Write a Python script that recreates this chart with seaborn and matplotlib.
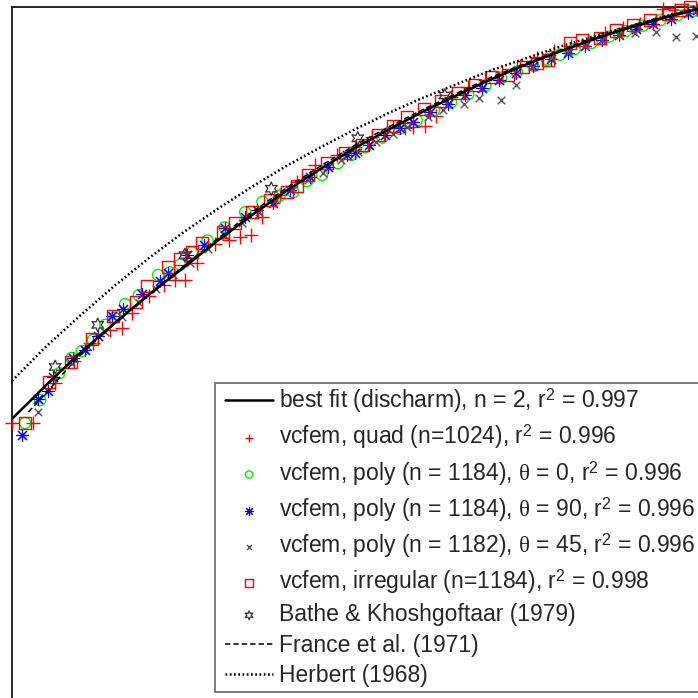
import numpy as np
import pandas as pd
import matplotlib
matplotlib.use("Agg")
import matplotlib.pyplot as plt
from matplotlib.patches import Rectangle
import seaborn as sns

# ---------------- data (normalised units) ----------------
fit_x = [0.00, 0.05, 0.10, 0.15, 0.20, 0.25, 0.30, 0.35, 0.40, 0.45, 0.50,
         0.55, 0.60, 0.65, 0.70, 0.75, 0.80, 0.85, 0.90, 0.95, 1.00]
fit_y = [0.404, 0.453, 0.500, 0.543, 0.584, 0.623, 0.662, 0.699, 0.734, 0.766, 0.796,
         0.823, 0.849, 0.873, 0.896, 0.917, 0.936, 0.954, 0.970, 0.984, 0.997]

france_x = [0.024, 0.043, 0.075, 0.10, 0.15, 0.20, 0.25, 0.30, 0.35, 0.40, 0.45, 0.50,
            0.55, 0.60, 0.65, 0.70, 0.75, 0.80, 0.85, 0.90, 0.95, 1.00]
france_y = [0.414, 0.434, 0.470, 0.497, 0.542, 0.585, 0.625, 0.665, 0.703, 0.738, 0.770, 0.800,
            0.827, 0.852, 0.876, 0.899, 0.919, 0.938, 0.956, 0.972, 0.986, 0.998]

herbert_x = [0.00, 0.05, 0.10, 0.15, 0.20, 0.25, 0.30, 0.35, 0.40, 0.45, 0.50,
             0.55, 0.60, 0.65, 0.70, 0.75, 0.80, 0.85, 0.90, 0.95, 1.00]
herbert_y = [0.459, 0.509, 0.554, 0.597, 0.637, 0.674, 0.708, 0.740, 0.770, 0.797, 0.823,
             0.847, 0.869, 0.889, 0.909, 0.926, 0.943, 0.958, 0.972, 0.986, 0.998]

quad_x = [0.000, 0.031, 0.063, 0.090, 0.118, 0.143, 0.160, 0.175, 0.200, 0.222, 0.238,
          0.252, 0.270, 0.296, 0.316, 0.332, 0.348, 0.364, 0.390, 0.415, 0.442, 0.474,
          0.500, 0.525, 0.555, 0.573, 0.585, 0.602, 0.618, 0.640, 0.665, 0.690, 0.715,
          0.740, 0.765, 0.790, 0.815, 0.840, 0.865, 0.890, 0.915, 0.949, 0.966, 0.985]
quad_y = [0.398, 0.398, 0.456, 0.487, 0.514, 0.533, 0.535, 0.557, 0.582, 0.598, 0.605,
          0.605, 0.630, 0.657, 0.663, 0.667, 0.670, 0.696, 0.728, 0.747, 0.771, 0.786,
          0.798, 0.812, 0.827, 0.825, 0.826, 0.828, 0.842, 0.870, 0.884, 0.895, 0.906,
          0.915, 0.926, 0.936, 0.944, 0.952, 0.962, 0.970, 0.976, 0.997, 0.996, 0.995]

poly0_x = [0.019, 0.041, 0.069, 0.087, 0.102, 0.118, 0.136, 0.150, 0.165, 0.185, 0.213,
           0.230, 0.245, 0.262, 0.285, 0.310, 0.340, 0.365, 0.390, 0.410, 0.430, 0.452,
           0.475, 0.495, 0.515, 0.540, 0.565, 0.590, 0.615, 0.640, 0.665, 0.690, 0.713,
           0.736, 0.760, 0.780, 0.799, 0.820, 0.845, 0.870, 0.895, 0.920, 0.945, 0.970, 0.992]
poly0_y = [0.398, 0.431, 0.470, 0.492, 0.502, 0.518, 0.540, 0.550, 0.570, 0.583, 0.612,
           0.616, 0.627, 0.645, 0.662, 0.681, 0.703, 0.718, 0.727, 0.732, 0.748, 0.757,
           0.774, 0.786, 0.797, 0.811, 0.824, 0.836, 0.850, 0.862, 0.874, 0.886, 0.897,
           0.906, 0.915, 0.924, 0.931, 0.939, 0.948, 0.957, 0.965, 0.973, 0.981, 0.988, 0.994]

poly90_x = [0.015, 0.038, 0.052, 0.060, 0.089, 0.106, 0.125, 0.146, 0.162, 0.190, 0.216,
            0.227, 0.255, 0.280, 0.310, 0.340, 0.357, 0.380, 0.405, 0.434, 0.460, 0.488,
            0.500, 0.520, 0.544, 0.565, 0.585, 0.610, 0.635, 0.660, 0.685, 0.710, 0.735,
            0.760, 0.785, 0.810, 0.835, 0.860, 0.885, 0.910, 0.935, 0.960, 0.985, 0.998]
poly90_y = [0.381, 0.433, 0.444, 0.465, 0.492, 0.504, 0.524, 0.553, 0.563, 0.585, 0.603,
            0.615, 0.641, 0.655, 0.680, 0.696, 0.706, 0.717, 0.735, 0.754, 0.768, 0.786,
            0.789, 0.800, 0.815, 0.825, 0.834, 0.848, 0.860, 0.872, 0.883, 0.894, 0.905,
            0.915, 0.925, 0.934, 0.943, 0.952, 0.960, 0.968, 0.976, 0.983, 0.991, 0.995]

poly45_x = [0.038, 0.060, 0.085, 0.110, 0.135, 0.160, 0.185, 0.210, 0.235, 0.260, 0.285,
            0.310, 0.335, 0.360, 0.385, 0.410, 0.431, 0.453, 0.480, 0.505, 0.530, 0.555,
            0.576, 0.606, 0.628, 0.659, 0.681, 0.713, 0.735, 0.758, 0.785, 0.810, 0.835,
            0.860, 0.885, 0.908, 0.939, 0.968, 0.997]
poly45_y = [0.414, 0.461, 0.486, 0.509, 0.530, 0.552, 0.572, 0.592, 0.612, 0.630, 0.650,
            0.668, 0.687, 0.704, 0.721, 0.737, 0.750, 0.760, 0.778, 0.790, 0.805, 0.816,
            0.826, 0.841, 0.851, 0.860, 0.868, 0.865, 0.887, 0.913, 0.926, 0.935, 0.944,
            0.952, 0.959, 0.963, 0.964, 0.957, 0.958]

irreg_x = [0.019, 0.054, 0.086, 0.117, 0.147, 0.181, 0.197, 0.227, 0.245, 0.262, 0.277,
           0.308, 0.325, 0.350, 0.376, 0.401, 0.415, 0.431, 0.459, 0.485, 0.510, 0.534,
           0.555, 0.576, 0.600, 0.625, 0.650, 0.675, 0.700, 0.723, 0.745, 0.765, 0.781,
           0.813, 0.831, 0.857, 0.880, 0.905, 0.930, 0.956, 0.975, 0.988]
irreg_y = [0.398, 0.457, 0.486, 0.520, 0.553, 0.573, 0.596, 0.624, 0.635, 0.645, 0.658,
           0.674, 0.687, 0.704, 0.721, 0.732, 0.741, 0.757, 0.774, 0.789, 0.800, 0.815,
           0.828, 0.841, 0.852, 0.864, 0.876, 0.887, 0.898, 0.902, 0.913, 0.919, 0.923,
           0.948, 0.952, 0.955, 0.966, 0.974, 0.981, 0.990, 0.995, 1.000]

bathe_x = [0.063, 0.125, 0.252, 0.378, 0.504, 0.631]
bathe_y = [0.479, 0.540, 0.641, 0.737, 0.810, 0.872]

labels = [
    "best fit (discharm), n = 2, r$^2$ = 0.997",
    "vcfem, quad (n=1024), r$^2$ = 0.996",
    "vcfem, poly (n = 1184), $\\theta$ = 0, r$^2$ = 0.996",
    "vcfem, poly (n = 1184), $\\theta$ = 90, r$^2$ = 0.996",
    "vcfem, poly (n = 1182), $\\theta$ = 45, r$^2$ = 0.996",
    "vcfem, irregular (n=1184), r$^2$ = 0.998",
    "Bathe & Khoshgoftaar (1979)",
    "France et al. (1971)",
    "Herbert (1968)",
]

# ---------------- style ----------------
sns.set_style("white")
plt.rcParams["font.family"] = ["Liberation Sans", "DejaVu Sans"]
plt.rcParams["mathtext.fontset"] = "custom"
plt.rcParams["mathtext.rm"] = "Liberation Sans"
plt.rcParams["mathtext.it"] = "Liberation Serif"
plt.rcParams["mathtext.bf"] = "Liberation Sans:bold"

W = 698.0
fig = plt.figure(figsize=(6.98, 6.98), dpi=100)
ax = fig.add_axes([12 / W, 0.0, 686 / W, 691 / W])
ax.set_xlim(0, 1)
ax.set_ylim(0, 1)

handles = []

# best fit
sns.lineplot(x=fit_x, y=fit_y, ax=ax, color="black", linewidth=1.8,
             sort=False, estimator=None, zorder=5)
handles.append(ax.lines[-1])

def scat(x, y, **kw):
    sns.scatterplot(x=x, y=y, ax=ax, clip_on=False, legend=False, **kw)
    return ax.collections[-1]

handles.append(scat(quad_x, quad_y, marker="+", color="#FF0000", s=95, linewidth=1.0, zorder=3))
handles.append(scat(poly0_x, poly0_y, marker="o", facecolor="none", edgecolor="#00EE00",
                    s=65, linewidth=1.0, zorder=3))
handles.append(scat(poly90_x, poly90_y, marker=(8, 2, 0), color="#0000FF", s=75,
                    linewidth=0.8, zorder=3))
handles.append(scat(poly45_x, poly45_y, marker="x", color="#555555", s=30,
                    linewidth=1.0, zorder=3))
handles.append(scat(irreg_x, irreg_y, marker="s", facecolor="none", edgecolor="#FF0000",
                    s=75, linewidth=1.0, zorder=3))
handles.append(scat(bathe_x, bathe_y, marker=(6, 1, 0), facecolor="none", edgecolor="#333333",
                    s=95, linewidth=0.9, zorder=3))

sns.lineplot(x=france_x, y=france_y, ax=ax, color="black", linewidth=1.1,
             sort=False, estimator=None, zorder=4)
ax.lines[-1].set_linestyle((0, (3.5, 2.0)))
handles.append(ax.lines[-1])

sns.lineplot(x=herbert_x, y=herbert_y, ax=ax, color="black", linewidth=1.8,
             sort=False, estimator=None, zorder=4)
ax.lines[-1].set_linestyle((0, (0.7, 1.0)))
handles.append(ax.lines[-1])

ax.set_xticks([])
ax.set_yticks([])
ax.set_xlabel("")
ax.set_ylabel("")
for side in ["right", "bottom"]:
    ax.spines[side].set_visible(False)
for side in ["left", "top"]:
    ax.spines[side].set_color("black")
    ax.spines[side].set_linewidth(1.2)

# legend frame (box runs off the right edge of the picture)
frame = Rectangle((215 / W, 1 - 692 / W), 1.0, (692 - 383) / W,
                  transform=fig.transFigure, facecolor="white", edgecolor="#666666",
                  linewidth=1.2, clip_on=False, zorder=9)
ax.add_patch(frame)

leg = ax.legend(handles, labels, loc="upper left",
                bbox_to_anchor=(225 / W, 1 - 386.5 / W),
                bbox_transform=fig.transFigure,
                fontsize=16.5, frameon=False,
                handlelength=2.1, handletextpad=0.25, labelspacing=0.32,
                borderpad=0.0, borderaxespad=0.0, markerscale=0.65)
leg.set_zorder(10)

fig.savefig("out.png", dpi=100)
